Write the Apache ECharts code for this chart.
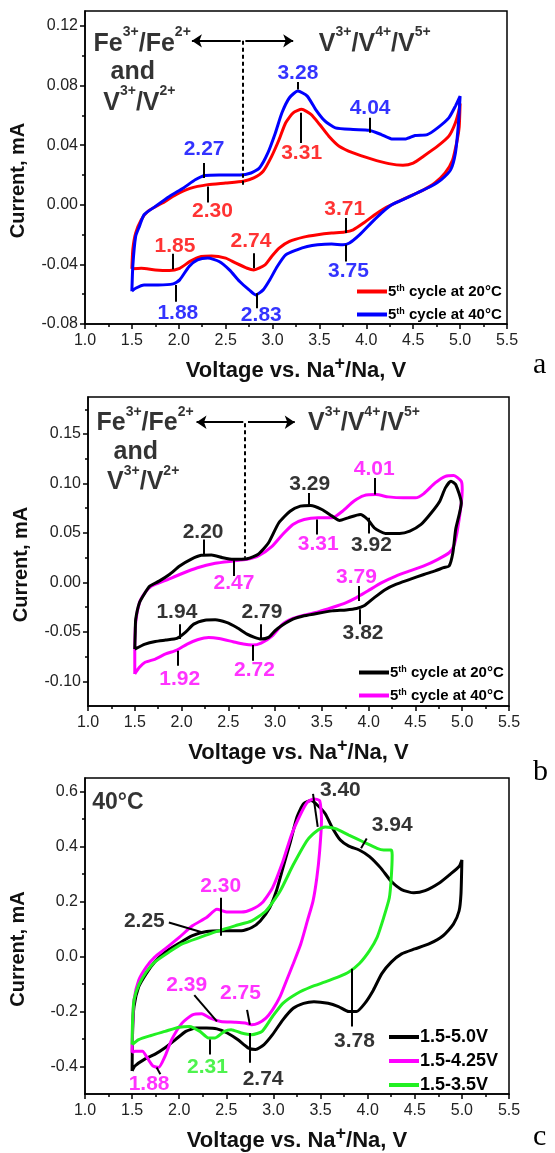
<!DOCTYPE html>
<html>
<head>
<meta charset="utf-8">
<script src="https://cdn.jsdelivr.net/npm/echarts@6/dist/echarts.min.js"></script>
<style>
  html, body { margin: 0; padding: 0; background: #fff; }
  #main { width: 555px; height: 1153px; }
</style>
</head>
<body>
<div id="main"></div>
<script>
// ---- data: [voltage V, current mA], read off the CV loops ----
// panel a
const aRed = [[1.50,-0.043],[1.51,-0.030],[1.54,-0.019],[1.60,-0.010],[1.67,-0.0044],[1.82,0.001],[1.97,0.0067],[2.12,0.011],[2.31,0.0135],[2.50,0.0146],[2.69,0.0158],[2.80,0.018],[2.90,0.0225],[2.99,0.0325],[3.07,0.0438],[3.14,0.055],[3.22,0.0617],[3.31,0.064],[3.41,0.0606],[3.50,0.054],[3.60,0.046],[3.71,0.0393],[3.86,0.0348],[4.05,0.0308],[4.24,0.0276],[4.39,0.0265],[4.50,0.028],[4.61,0.0326],[4.76,0.0393],[4.88,0.046],[4.95,0.055],[4.99,0.064],[5.00,0.068],
  [4.99,0.052],[4.97,0.0438],[4.92,0.030],[4.84,0.0213],[4.73,0.0146],[4.61,0.010],[4.46,0.0056],[4.31,0.0012],[4.20,-0.0022],[4.09,-0.0067],[3.97,-0.0123],[3.86,-0.0168],[3.77,-0.0183],[3.63,-0.019],[3.48,-0.0201],[3.33,-0.0217],[3.18,-0.0246],[3.07,-0.0291],[2.99,-0.0347],[2.92,-0.0403],[2.80,-0.0437],[2.73,-0.0426],[2.61,-0.0392],[2.50,-0.0358],[2.35,-0.0343],[2.24,-0.0347],[2.12,-0.038],[2.01,-0.0426],[1.90,-0.0441],[1.75,-0.0437],[1.60,-0.0426],[1.50,-0.043]];
const aBlue = [[1.50,-0.058],[1.51,-0.041],[1.54,-0.0213],[1.58,-0.0145],[1.63,-0.0067],[1.75,-0.0011],[1.90,0.0056],[2.05,0.0113],[2.18,0.0169],[2.28,0.0196],[2.43,0.020],[2.65,0.020],[2.77,0.0213],[2.86,0.0247],[2.95,0.0348],[3.03,0.0482],[3.10,0.0617],[3.18,0.0718],[3.27,0.0763],[3.37,0.0729],[3.46,0.0639],[3.56,0.0561],[3.67,0.0516],[3.86,0.0505],[4.03,0.050],[4.16,0.0471],[4.27,0.0442],[4.42,0.0442],[4.52,0.0465],[4.65,0.0471],[4.76,0.0516],[4.88,0.0583],[4.95,0.0662],[5.00,0.0729],
  [4.98,0.0527],[4.95,0.0348],[4.90,0.0236],[4.80,0.0169],[4.69,0.0124],[4.54,0.0079],[4.39,0.0034],[4.27,0.0],[4.16,-0.0056],[4.05,-0.0123],[3.93,-0.0201],[3.82,-0.0257],[3.75,-0.0269],[3.63,-0.0264],[3.48,-0.0269],[3.37,-0.028],[3.26,-0.0302],[3.14,-0.0336],[3.05,-0.0414],[2.97,-0.0504],[2.90,-0.0571],[2.82,-0.0605],[2.75,-0.0571],[2.65,-0.0515],[2.54,-0.0437],[2.43,-0.0381],[2.31,-0.0358],[2.20,-0.037],[2.11,-0.0414],[2.01,-0.0504],[1.94,-0.0531],[1.78,-0.0538],[1.63,-0.0538],[1.54,-0.056],[1.50,-0.058]];
// panel b
const bBlack = [[1.50,-0.0674],[1.505,-0.050],[1.51,-0.0372],[1.55,-0.0205],[1.61,-0.0104],[1.66,-0.0037],[1.76,0.0013],[1.87,0.008],[1.98,0.0166],[2.10,0.0233],[2.21,0.0274],[2.32,0.0277],[2.44,0.025],[2.55,0.0233],[2.70,0.024],[2.82,0.0284],[2.93,0.0401],[3.04,0.0603],[3.16,0.072],[3.27,0.0771],[3.38,0.0778],[3.50,0.0737],[3.61,0.067],[3.69,0.0626],[3.78,0.0653],[3.91,0.0687],[3.99,0.0636],[4.06,0.0552],[4.18,0.0495],[4.33,0.0495],[4.44,0.0519],[4.56,0.0586],[4.67,0.0704],[4.76,0.0821],[4.82,0.0956],[4.88,0.1023],[4.93,0.099],[4.99,0.0804],
  [4.93,0.0536],[4.90,0.030],[4.86,0.0166],[4.80,0.0149],[4.71,0.0116],[4.59,0.008],[4.44,0.003],[4.29,-0.002],[4.18,-0.0071],[4.06,-0.0154],[3.95,-0.0237],[3.87,-0.0264],[3.76,-0.0278],[3.61,-0.0288],[3.46,-0.0311],[3.31,-0.0338],[3.19,-0.0372],[3.08,-0.0432],[3.00,-0.0489],[2.93,-0.0556],[2.85,-0.0573],[2.78,-0.0556],[2.70,-0.0523],[2.59,-0.0456],[2.48,-0.0405],[2.36,-0.0378],[2.25,-0.0382],[2.13,-0.0422],[2.04,-0.0506],[1.95,-0.0567],[1.83,-0.0583],[1.72,-0.0597],[1.61,-0.0624],[1.50,-0.0674]];
const bMagenta = [[1.50,-0.0926],[1.50,-0.0708],[1.51,-0.0405],[1.55,-0.0204],[1.61,-0.0104],[1.68,-0.0037],[1.83,0.002],[1.98,0.008],[2.17,0.0148],[2.36,0.0193],[2.55,0.0216],[2.70,0.0233],[2.82,0.0267],[2.97,0.0368],[3.08,0.0485],[3.19,0.0586],[3.31,0.0636],[3.46,0.0653],[3.61,0.0653],[3.72,0.072],[3.84,0.0821],[3.95,0.0878],[4.08,0.0888],[4.21,0.0865],[4.37,0.0855],[4.50,0.0855],[4.59,0.0898],[4.71,0.1006],[4.82,0.1073],[4.91,0.108],[4.99,0.1023],[5.00,0.0939],
  [4.99,0.080],[4.95,0.0536],[4.91,0.0368],[4.86,0.030],[4.74,0.0233],[4.59,0.0166],[4.44,0.0116],[4.29,0.0064],[4.14,-0.0003],[3.99,-0.0087],[3.87,-0.0154],[3.76,-0.0204],[3.61,-0.0254],[3.46,-0.0298],[3.31,-0.0331],[3.19,-0.0365],[3.08,-0.0422],[2.97,-0.054],[2.85,-0.0614],[2.76,-0.0634],[2.66,-0.0624],[2.55,-0.06],[2.40,-0.0567],[2.29,-0.0556],[2.17,-0.058],[2.06,-0.0624],[1.95,-0.0684],[1.83,-0.0724],[1.72,-0.0775],[1.61,-0.0808],[1.55,-0.0859],[1.50,-0.0926]];
// panel c
const cBlack = [[1.50,-0.416],[1.505,-0.278],[1.52,-0.182],[1.57,-0.11],[1.65,-0.062],[1.74,-0.02],[1.85,0.016],[2.00,0.0485],[2.14,0.076],[2.29,0.0916],[2.48,0.094],[2.66,0.094],[2.77,0.106],[2.86,0.13],[2.96,0.178],[3.03,0.238],[3.10,0.322],[3.18,0.418],[3.25,0.508],[3.32,0.556],[3.40,0.568],[3.47,0.55],[3.55,0.52],[3.62,0.472],[3.71,0.424],[3.80,0.402],[3.91,0.388],[4.02,0.364],[4.14,0.322],[4.25,0.274],[4.36,0.244],[4.49,0.232],[4.61,0.24],[4.76,0.268],[4.87,0.298],[4.97,0.328],[5.00,0.352],
  [4.99,0.226],[4.97,0.166],[4.91,0.118],[4.80,0.076],[4.65,0.046],[4.50,0.028],[4.36,0.01],[4.25,-0.02],[4.15,-0.062],[4.06,-0.122],[3.97,-0.17],[3.88,-0.2],[3.80,-0.2],[3.69,-0.182],[3.58,-0.17],[3.43,-0.164],[3.32,-0.17],[3.21,-0.188],[3.10,-0.23],[2.99,-0.284],[2.90,-0.32],[2.81,-0.338],[2.73,-0.332],[2.62,-0.302],[2.51,-0.278],[2.40,-0.263],[2.29,-0.26],[2.18,-0.26],[2.07,-0.272],[1.96,-0.302],[1.85,-0.332],[1.74,-0.356],[1.63,-0.374],[1.53,-0.398],[1.50,-0.416]];
const cMagenta = [[1.50,-0.35],[1.505,-0.254],[1.52,-0.158],[1.57,-0.086],[1.65,-0.038],[1.74,-0.002],[1.85,0.028],[2.00,0.07],[2.14,0.112],[2.29,0.142],[2.40,0.172],[2.51,0.162],[2.66,0.162],[2.77,0.172],[2.88,0.196],[2.99,0.25],[3.10,0.346],[3.19,0.442],[3.29,0.52],[3.36,0.562],[3.43,0.574],[3.49,0.568],[3.51,0.50],
  [3.49,0.382],[3.46,0.286],[3.42,0.202],[3.36,0.13],[3.29,0.046],[3.21,-0.026],[3.14,-0.086],[3.07,-0.146],[2.99,-0.194],[2.92,-0.224],[2.84,-0.242],[2.77,-0.248],[2.70,-0.242],[2.59,-0.239],[2.44,-0.236],[2.33,-0.224],[2.24,-0.208],[2.14,-0.212],[2.03,-0.242],[1.92,-0.302],[1.85,-0.362],[1.78,-0.404],[1.72,-0.398],[1.66,-0.368],[1.61,-0.344],[1.53,-0.344],[1.50,-0.35]];
const cGreen = [[1.50,-0.32],[1.505,-0.23],[1.52,-0.158],[1.57,-0.104],[1.65,-0.056],[1.74,-0.02],[1.89,0.016],[2.03,0.046],[2.22,0.07],[2.40,0.0916],[2.59,0.112],[2.77,0.13],[2.92,0.166],[3.07,0.238],[3.21,0.334],[3.36,0.424],[3.47,0.46],[3.55,0.472],[3.66,0.466],[3.80,0.442],[3.95,0.418],[4.10,0.394],[4.17,0.388],[4.25,0.388],
  [4.26,0.37],[4.25,0.286],[4.23,0.214],[4.17,0.142],[4.10,0.07],[4.02,0.022],[3.91,-0.026],[3.80,-0.056],[3.69,-0.074],[3.55,-0.092],[3.40,-0.11],[3.25,-0.134],[3.10,-0.17],[2.99,-0.218],[2.88,-0.272],[2.77,-0.284],[2.66,-0.278],[2.55,-0.266],[2.48,-0.272],[2.38,-0.296],[2.31,-0.296],[2.22,-0.272],[2.11,-0.254],[2.00,-0.257],[1.85,-0.272],[1.70,-0.287],[1.57,-0.302],[1.50,-0.32]];

// ---- peak labels [text, V, mA] and their pointer lines [[V,mA],[V,mA]] ----
const aBlueLabels = [['2.27',2.27,0.037],['3.28',3.27,0.0886],['4.04',4.04,0.065],['3.75',3.81,-0.0448],['1.88',1.99,-0.0728],['2.83',2.88,-0.074]];
const aRedLabels = [['2.30',2.36,-0.0044],['3.31',3.31,0.0348],['3.71',3.77,-0.0033],['1.85',1.96,-0.028],['2.74',2.77,-0.0246]];
const aPointers = [[[2.27,0.028],[2.27,0.018]],[[2.31,0.0123],[2.31,0.0016]],[[3.27,0.0823],[3.27,0.0774]],[[3.30,0.0617],[3.30,0.0415]],[[4.04,0.0583],[4.04,0.0483]],[[3.78,-0.0089],[3.78,-0.019]],[[3.78,-0.0269],[3.78,-0.038]],[[1.94,-0.0329],[1.94,-0.0432]],[[1.97,-0.0538],[1.97,-0.065]],[[2.80,-0.0325],[2.80,-0.0426]],[[2.83,-0.0594],[2.83,-0.0695]]];
const aDivider = [[2.68,0.110],[2.68,0.0124]];
const aArrows = [[[2.66,0.110],[2.14,0.110]],[[2.71,0.110],[3.22,0.110]]];
const aHeadings = [['{t|Fe}{s|3+}{t|/Fe}{s|2+}',1.61,0.110],['{t|and}',1.51,0.091],['{t|V}{s|3+}{t|/V}{s|2+}',1.58,0.0705],['{t|V}{s|3+}{t|/V}{s|4+}{t|/V}{s|5+}',4.09,0.110]];

const bBlackLabels = [['2.20',2.23,0.0509],['3.29',3.37,0.0996],['3.92',4.03,0.0374],['3.82',3.94,-0.0516],['1.94',1.95,-0.0304],['2.79',2.86,-0.0298]];
const bMagentaLabels = [['2.47',2.56,-0.0012],['3.31',3.46,0.0384],['4.01',4.06,0.114],['3.79',3.87,0.0048],['1.92',1.98,-0.0976],['2.72',2.78,-0.0886]];
const bPointers = [[[2.24,0.0435],[2.24,0.0277]],[[2.56,0.0223],[2.56,0.0065]],[[3.36,0.0905],[3.36,0.0771]],[[3.45,0.0636],[3.45,0.0485]],[[4.00,0.0653],[4.00,0.0495]],[[4.07,0.1056],[4.07,0.0888]],[[3.89,-0.0036],[3.89,-0.0187]],[[3.91,-0.0271],[3.91,-0.0422]],[[1.98,-0.0422],[1.98,-0.0573]],[[1.96,-0.0691],[1.96,-0.0842]],[[2.85,-0.0422],[2.85,-0.0573]],[[2.76,-0.0634],[2.76,-0.0792]]];
const bDivider = [[2.68,0.161],[2.68,0.025]];
const bArrows = [[[2.66,0.162],[2.16,0.162]],[[2.71,0.162],[3.21,0.162]]];
const bHeadings = [['{t|Fe}{s|3+}{t|/Fe}{s|2+}',1.61,0.164],['{t|and}',1.51,0.135],['{t|V}{s|3+}{t|/V}{s|2+}',1.59,0.104],['{t|V}{s|3+}{t|/V}{s|4+}{t|/V}{s|5+}',3.95,0.164]];

const cBlackLabels = [['3.40',3.71,0.607],['3.94',4.26,0.48],['2.25',1.63,0.128],['2.74',2.89,-0.446],['3.78',3.86,-0.308]];
const cMagentaLabels = [['2.30',2.44,0.256],['2.39',2.08,-0.104],['2.75',2.65,-0.134],['1.88',1.68,-0.464]];
const cGreenLabels = [['2.31',2.30,-0.404]];
const cPointers = [[[3.42,0.592],[3.47,0.472]],[[3.99,0.43],[3.93,0.394]],[[2.44,0.214],[2.44,0.076]],[[1.89,0.124],[2.25,0.088]],[[2.16,-0.14],[2.40,-0.236]],[[2.72,-0.194],[2.75,-0.248]],[[2.75,-0.278],[2.75,-0.386]],[[2.32,-0.302],[2.32,-0.356]],[[1.76,-0.404],[1.80,-0.428]],[[3.83,-0.044],[3.83,-0.254]]];
const cHeadings = [['{t|40°C}',1.35,0.57]];

// ---- axes ----
const yRangeA = [-0.08, 0.13], yTicksA = [-0.08, -0.04, 0, 0.04, 0.08, 0.12], yMinorA = [-0.06, -0.02, 0.02, 0.06, 0.10];
const yRangeB = [-0.125, 0.1875], yTicksB = [-0.10, -0.05, 0, 0.05, 0.10, 0.15], yMinorB = [-0.075, -0.025, 0.025, 0.075, 0.125, 0.175];
const yRangeC = [-0.5, 0.65], yTicksC = [-0.4, -0.2, 0, 0.2, 0.4, 0.6], yMinorC = [-0.3, -0.1, 0.1, 0.3, 0.5];

const legendNames = {
  a20: '5{s|th} cycle at 20°C', a40: '5{s|th} cycle at 40°C',
  b20: '5{s|th} cycle at 20°C', b40: '5{s|th} cycle at 40°C',
  c50: '1.5-5.0V', c425: '1.5-4.25V', c35: '1.5-3.5V'
};

const FONT = 'Liberation Sans, Arial, sans-serif';
const RED = '#ff0000', BLUE = '#0000ff', BLACK = '#000000', MAGENTA = '#ff00ff', GREEN = '#22f022';

const grids = [
  { left: 85, top: 11, width: 422, height: 313 },
  { left: 88, top: 397, width: 421, height: 309 },
  { left: 78, top: 778, width: 431, height: 320 }
].map(g => Object.assign(g, { show: true, borderColor: '#000', borderWidth: 1.5, backgroundColor: 'transparent' }));

const xAxes = [0, 1, 2].map(i => ({
  gridIndex: i, type: 'value', min: 1, max: 5.5, interval: 0.5, position: 'bottom',
  axisLine: { onZero: false, lineStyle: { color: '#000', width: 1.5 } },
  axisTick: { length: 5, lineStyle: { color: '#000', width: 1.5 } },
  minorTick: { show: true, splitNumber: 2, length: 3, lineStyle: { color: '#000', width: 1.5 } },
  splitLine: { show: false },
  axisLabel: { fontSize: 16, fontFamily: FONT, color: '#222', margin: 9, formatter: v => v.toFixed(1) },
  name: '{t|Voltage vs. Na}{s|+}{t|/Na, V}', nameLocation: 'middle', nameGap: 31,
  nameTextStyle: { rich: {
    t: { fontSize: 22, fontWeight: 'bold', fontFamily: FONT, color: '#111', lineHeight: 27, verticalAlign: 'bottom' },
    s: { fontSize: 18, fontWeight: 'bold', fontFamily: FONT, color: '#111', lineHeight: 18, verticalAlign: 'top' }
  } }
}));

function yPair(i, range, ticks, minor, digits) {
  return [{
    gridIndex: i, type: 'value', min: range[0], max: range[1], position: 'left',
    axisLine: { onZero: false, lineStyle: { color: '#000', width: 1.5 } },
    axisTick: { customValues: ticks, length: 5, lineStyle: { color: '#000', width: 1.5 } },
    splitLine: { show: false },
    axisLabel: { customValues: ticks, fontSize: 16, fontFamily: FONT, color: '#222', margin: 7, formatter: v => v.toFixed(digits) },
    name: 'Current, mA', nameLocation: 'middle', nameGap: 57,
    nameTextStyle: { fontSize: 20, fontWeight: 'bold', fontFamily: FONT, color: '#111', padding: [0, 26, 0, 0] }
  }, {
    gridIndex: i, type: 'value', min: range[0], max: range[1], position: 'left', offset: 0,
    axisLine: { show: false, onZero: false },
    axisTick: { customValues: minor, length: 3, lineStyle: { color: '#000', width: 1.5 } },
    axisLabel: { show: false }, splitLine: { show: false }
  }];
}
const yAxes = [].concat(yPair(0, yRangeA, yTicksA, yMinorA, 2), yPair(1, yRangeB, yTicksB, yMinorB, 2), yPair(2, yRangeC, yTicksC, yMinorC, 1));

// ---- series builders ----
function curve(p, name, data, color) {
  return { type: 'line', name, xAxisIndex: p, yAxisIndex: 2 * p, data, showSymbol: false, smooth: 0.2,
    lineStyle: { color, width: 3 }, itemStyle: { color }, silent: true, z: 2 };
}
function texts(p, items, color) {
  return { type: 'scatter', xAxisIndex: p, yAxisIndex: 2 * p, symbolSize: 1, silent: true, z: 10,
    itemStyle: { color: 'rgba(0,0,0,0)' },
    data: items.map(t => ({ value: [t[1], t[2]], name: t[0] })),
    label: { show: true, position: 'inside', formatter: q => q.name, color, fontSize: 21, fontWeight: 'bold', fontFamily: FONT } };
}
function headings(p, items, big, small) {
  return { type: 'scatter', xAxisIndex: p, yAxisIndex: 2 * p, symbolSize: 1, silent: true, z: 10,
    itemStyle: { color: 'rgba(0,0,0,0)' },
    data: items.map(t => ({ value: [t[1], t[2]], name: t[0] })),
    label: { show: true, position: 'inside', formatter: q => q.name, rich: {
      t: { fontSize: big, fontWeight: 'bold', fontFamily: FONT, color: '#000', lineHeight: big + 6, verticalAlign: 'bottom' },
      s: { fontSize: small, fontWeight: 'bold', fontFamily: FONT, color: '#000', lineHeight: small, verticalAlign: 'top' }
    } } };
}
function segs(p, list, extra) {
  return Object.assign({ type: 'lines', coordinateSystem: 'cartesian2d', xAxisIndex: p, yAxisIndex: 2 * p, silent: true, z: 6,
    polyline: false, symbol: 'none',
    data: list.map(c => ({ coords: c })),
    lineStyle: { color: '#000', width: 2, opacity: 1, curveness: 0 } }, extra || {});
}
function dashed(p, c) {
  return segs(p, [c], { lineStyle: { color: '#000', width: 2, opacity: 1, type: [4, 3] } });
}
function arrows(p, list) {
  return segs(p, list, { symbol: ['none', 'arrow'], symbolSize: [0, 10], lineStyle: { color: '#000', width: 2, opacity: 1 } });
}

function legend(names, left, top, size, gap) {
  return { data: names, orient: 'vertical', left, top, padding: 0, itemGap: gap, itemWidth: 30, itemHeight: 4,
    icon: 'rect', selectedMode: false, formatter: n => legendNames[n],
    textStyle: { fontSize: size, fontWeight: 'bold', fontFamily: FONT, color: '#000', padding: [0, 0, 0, -4],
      rich: { s: { fontSize: 9, fontWeight: 'bold', fontFamily: FONT, verticalAlign: 'top', lineHeight: 10 } } } };
}

const option = {
  animation: false,
  backgroundColor: '#fff',
  grid: grids,
  xAxis: xAxes,
  yAxis: yAxes,
  legend: [
    legend(['a20', 'a40'], 357, 284, 15, 8),
    legend(['b20', 'b40'], 359, 665, 15, 8),
    legend(['c50', 'c425', 'c35'], 389, 1028, 18, 6)
  ],
  graphic: [
    { type: 'text', left: 533, top: 350, style: { text: 'a', font: '30px Liberation Serif', fill: '#000' } },
    { type: 'text', left: 533, top: 757, style: { text: 'b', font: '30px Liberation Serif', fill: '#000' } },
    { type: 'text', left: 533, top: 1122, style: { text: 'c', font: '30px Liberation Serif', fill: '#000' } }
  ],
  series: [
    curve(0, 'a20', aRed, RED),
    curve(0, 'a40', aBlue, BLUE),
    segs(0, aPointers), dashed(0, aDivider), arrows(0, aArrows),
    texts(0, aBlueLabels, BLUE), texts(0, aRedLabels, RED), headings(0, aHeadings, 25, 14),

    curve(1, 'b40', bMagenta, MAGENTA),
    curve(1, 'b20', bBlack, BLACK),
    segs(1, bPointers), dashed(1, bDivider), arrows(1, bArrows),
    texts(1, bBlackLabels, BLACK), texts(1, bMagentaLabels, MAGENTA), headings(1, bHeadings, 25, 14),

    curve(2, 'c50', cBlack, BLACK),
    curve(2, 'c425', cMagenta, MAGENTA),
    curve(2, 'c35', cGreen, GREEN),
    segs(2, cPointers),
    texts(2, cBlackLabels, BLACK), texts(2, cMagentaLabels, MAGENTA), texts(2, cGreenLabels, GREEN),
    headings(2, cHeadings, 23, 12)
  ]
};

const chart = echarts.init(document.getElementById('main'), null, { renderer: 'canvas' });
chart.setOption(option);
</script>
</body>
</html>
